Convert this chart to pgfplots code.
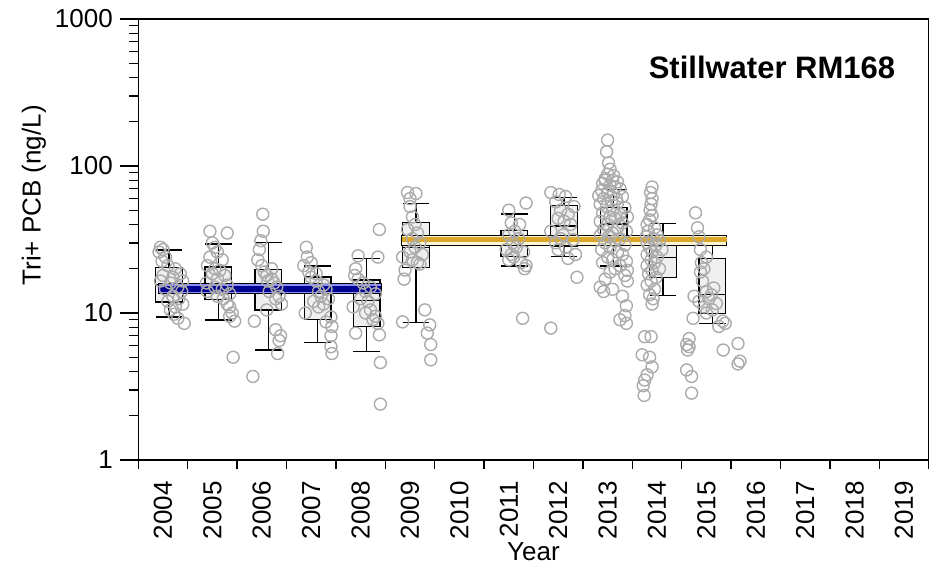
\documentclass[border=0pt]{standalone}
\usepackage{fontspec}
\setmainfont{Liberation Sans}
\usepackage{pgfplots}
\usepackage{pgfplotstable}
\usepgfplotslibrary{statistics}
\pgfplotsset{compat=1.18}

\definecolor{ptgray}{HTML}{ABABAB}
\definecolor{boxfill}{HTML}{DCDCDC}
\definecolor{navyline}{HTML}{000090}
\definecolor{blueband}{HTML}{8C8CFF}
\definecolor{goldline}{HTML}{DCA628}
\definecolor{goldband}{HTML}{FFF6D8}

% individual samples: x = sampling date as fractional year, y = ng/L
\pgfplotstableread{
x y
2004.45 28
2004.50 27
2004.42 26
2004.55 24
2004.48 22.5
2004.60 21
2004.75 20
2004.85 18.5
2004.70 17.5
2004.90 16.5
2004.65 16
2004.80 15
2004.55 14.5
2004.88 14
2004.70 13
2004.82 12.5
2004.60 12
2004.90 11.5
2004.75 11
2004.65 10.5
2004.72 9.8
2004.80 9.2
2004.93 8.5
2004.50 18
2004.45 16.5
2005.45 36
2005.80 35
2005.50 30
2005.55 28
2005.60 26
2005.45 24
2005.70 23
2005.40 21
2005.55 20
2005.65 19.5
2005.50 18.5
2005.75 18
2005.60 17
2005.38 16
2005.80 15.5
2005.55 15
2005.70 14.5
2005.40 14
2005.85 13.5
2005.60 13
2005.72 12.5
2005.80 11.5
2005.85 11
2005.90 10
2005.95 8.8
2005.85 9.5
2005.92 5
2006.52 47
2006.53 36
2006.48 31
2006.45 27
2006.42 23
2006.50 21
2006.55 19
2006.60 18
2006.70 17
2006.75 16
2006.80 15
2006.65 14
2006.85 13
2006.78 12.5
2006.90 11.5
2006.60 10.5
2006.35 8.8
2006.78 7.7
2006.88 7
2006.85 6.5
2006.82 5.3
2006.32 3.7
2006.70 20
2006.62 16.5
2007.40 28
2007.42 24
2007.35 21
2007.45 19
2007.50 17.5
2007.60 16.5
2007.75 15.5
2007.80 14.5
2007.65 14
2007.70 13
2007.85 12.5
2007.55 12
2007.75 11.5
2007.65 11
2007.38 10
2007.90 9.4
2007.92 8.1
2007.80 8.7
2007.90 7
2007.90 5.9
2007.92 5.3
2007.50 22
2007.60 18.5
2008.88 37
2008.45 24.5
2008.85 24
2008.40 20
2008.38 18
2008.45 17
2008.55 16
2008.70 15
2008.60 14
2008.80 13.5
2008.50 12.5
2008.65 12
2008.35 11
2008.70 10.5
2008.60 10
2008.80 9.5
2008.85 8.5
2008.40 7.3
2008.88 7.1
2008.90 4.6
2008.90 2.4
2008.75 9
2009.45 66
2009.62 65
2009.50 60
2009.50 53
2009.55 45
2009.60 40
2009.45 37
2009.65 35
2009.55 32
2009.70 30
2009.60 28
2009.50 26
2009.75 25
2009.35 24
2009.55 23
2009.65 22
2009.70 21.5
2009.40 19.6
2009.38 17
2009.80 10.5
2009.35 8.7
2009.90 8.3
2009.85 7.3
2009.92 6.1
2009.92 4.8
2011.50 50
2011.85 56
2011.55 41
2011.72 40
2011.62 36
2011.50 34
2011.70 32
2011.58 30
2011.65 28
2011.45 27
2011.80 26
2011.55 25
2011.60 24
2011.50 23
2011.75 22
2011.85 21
2011.82 20
2011.78 9.2
2012.35 66
2012.52 64
2012.65 62
2012.45 57
2012.82 53
2012.55 50
2012.70 47
2012.50 44
2012.62 42
2012.75 40
2012.35 36
2012.60 34
2012.80 31.5
2012.45 30
2012.65 28
2012.50 27
2012.85 25
2012.70 23.5
2012.55 32
2012.88 17.5
2012.35 7.9
2013.50 150
2013.48 125
2013.52 105
2013.55 95
2013.50 88
2013.45 82
2013.60 80
2013.70 78
2013.40 76
2013.55 74
2013.65 72
2013.75 70
2013.38 68
2013.50 66
2013.62 64
2013.80 62
2013.42 60
2013.58 58
2013.70 56
2013.35 55
2013.48 53
2013.85 52
2013.60 50
2013.40 48
2013.75 47
2013.55 45
2013.65 44
2013.35 42
2013.80 41
2013.50 40
2013.70 38
2013.42 37
2013.88 36
2013.60 35
2013.36 34
2013.52 33
2013.75 32
2013.65 31
2013.45 30
2013.85 29
2013.55 28
2013.38 27
2013.70 26
2013.80 25
2013.50 24
2013.60 23
2013.88 22.5
2013.40 22
2013.75 21
2013.65 20
2013.90 19.5
2013.55 19
2013.85 18
2013.45 17
2013.90 16.5
2013.35 15
2013.42 14
2013.60 14.5
2013.80 13
2013.88 11.2
2013.85 9.6
2013.75 9
2013.88 8.5
2013.45 80
2013.62 86
2013.68 60
2013.32 63
2013.90 45
2014.40 72
2014.37 66
2014.40 60
2014.38 55
2014.36 50
2014.40 46
2014.35 43
2014.30 40
2014.45 38
2014.32 36
2014.50 34
2014.28 33
2014.42 32
2014.55 31
2014.30 30
2014.48 29
2014.35 28
2014.60 27
2014.40 26
2014.30 25
2014.50 24
2014.38 23
2014.45 22
2014.30 21
2014.55 20
2014.40 19.5
2014.33 18.5
2014.48 17.5
2014.38 16.5
2014.30 15.5
2014.45 14.5
2014.35 13.3
2014.42 12.5
2014.40 11.5
2014.25 6.9
2014.38 6.9
2014.35 5.0
2014.20 5.2
2014.40 4.3
2014.30 3.8
2014.25 3.5
2014.22 3.2
2014.24 2.75
2015.28 48
2015.32 38
2015.35 33
2015.38 27
2015.40 22
2015.38 19
2015.42 16.5
2015.65 14.8
2015.50 14
2015.60 13.3
2015.25 13
2015.55 12.5
2015.70 11.6
2015.45 11
2015.62 10.5
2015.50 10
2015.23 9.2
2015.88 8.5
2015.75 8.1
2015.83 8.8
2015.15 6.7
2015.10 6.1
2015.12 5.6
2015.15 5.9
2015.84 5.6
2016.14 6.2
2016.14 4.5
2016.18 4.7
2015.10 4.1
2015.20 3.7
2015.20 2.85
2015.35 12
2015.45 20
2015.50 24
}\samples

\begin{document}
\begin{tikzpicture}
\useasboundingbox (-138.3pt,-110pt) rectangle (796.7pt,460pt);
\begin{axis}[
  at={(0pt,0pt)}, anchor=south west,
  scale only axis, width=790.4pt, height=441pt,
  ymode=log, ymin=1, ymax=1000,
  xmin=2004, xmax=2020,
  axis line style={line width=1.3pt},
  tick pos=left,
  tick align=outside, tick style={black, line width=1.3pt},
  major tick length=18pt, minor tick length=9pt,
  ytick={1,10,100,1000}, yticklabels={1,10,100,1000},
  minor ytick={2,3,4,5,6,7,8,9,20,30,40,50,60,70,80,90,200,300,400,500,600,700,800,900},
  xtick={2004.5,2005.5,...,2019.5},
  xticklabels={2004,2005,2006,2007,2008,2009,2010,2011,2012,2013,2014,2015,2016,2017,2018,2019},
  minor xtick={2004,2005,...,2020},
  major x tick style={draw=none},
  tick label style={font=\fontsize{26}{26}\selectfont},
  x tick label style={rotate=90, anchor=east},
  y tick label style={xshift=-4pt},
  /pgf/number format/assume math mode=true,
  xlabel={Year}, ylabel={Tri+ PCB (ng/L)},
  every axis x label/.style={at={(axis description cs:0.5,-0.209)}, anchor=center,
    font=\fontsize{26}{26}\selectfont},
  every axis y label/.style={at={(axis description cs:-0.132,0.6)}, rotate=90, anchor=center,
    font=\fontsize{26}{26}\selectfont},
  boxplot/draw direction=y,
  boxplot/box extend=0.54,
  boxplot/whisker extend=0.54,
  clip=false,
]
\addplot[only marks, mark=o, mark size=6pt, draw=ptgray, line width=1.4pt] table {\samples};

\addplot[black, line width=1.3pt, fill=boxfill, fill opacity=0.45, boxplot prepared={draw position=2004.62,
  lower whisker=9.4, lower quartile=11.9, median=15.7, upper quartile=20.5, upper whisker=26.8}] coordinates {};
\addplot[black, line width=1.3pt, fill=boxfill, fill opacity=0.45, boxplot prepared={draw position=2005.62,
  lower whisker=8.96, lower quartile=12.4, median=15.9, upper quartile=20.6, upper whisker=29.5}] coordinates {};
\addplot[black, line width=1.3pt, fill=boxfill, fill opacity=0.45, boxplot prepared={draw position=2006.63,
  lower whisker=5.6, lower quartile=10.5, median=14.3, upper quartile=19.8, upper whisker=30.1}] coordinates {};
\addplot[black, line width=1.3pt, fill=boxfill, fill opacity=0.45, boxplot prepared={draw position=2007.63,
  lower whisker=6.28, lower quartile=9.06, median=14.0, upper quartile=17.6, upper whisker=20.9}] coordinates {};
\addplot[black, line width=1.3pt, fill=boxfill, fill opacity=0.45, boxplot prepared={draw position=2008.62,
  lower whisker=5.5, lower quartile=8.07, median=12.1, upper quartile=16.8, upper whisker=23.6}] coordinates {};
\addplot[black, line width=1.3pt, fill=boxfill, fill opacity=0.45, boxplot prepared={draw position=2009.62,
  lower whisker=8.6, lower quartile=20.3, median=28.0, upper quartile=41.4, upper whisker=55.7}] coordinates {};
\addplot[black, line width=1.3pt, fill=boxfill, fill opacity=0.45, boxplot prepared={draw position=2011.61,
  lower whisker=20.9, lower quartile=24.2, median=30.5, upper quartile=36.3, upper whisker=47.1}] coordinates {};
\addplot[black, line width=1.3pt, fill=boxfill, fill opacity=0.45, boxplot prepared={draw position=2012.62,
  lower whisker=24.2, lower quartile=28.6, median=39.1, upper quartile=54.0, upper whisker=60.9}] coordinates {};
\addplot[black, line width=1.3pt, fill=boxfill, fill opacity=0.45, boxplot prepared={draw position=2013.62,
  lower whisker=20.9, lower quartile=29.8, median=40.3, upper quartile=52.3, upper whisker=69.4}] coordinates {};
\addplot[black, line width=1.3pt, fill=boxfill, fill opacity=0.45, boxplot prepared={draw position=2014.62,
  lower whisker=13.1, lower quartile=17.5, median=23.9, upper quartile=29.8, upper whisker=40.7}] coordinates {};
\addplot[black, line width=1.3pt, fill=boxfill, fill opacity=0.45, boxplot prepared={draw position=2015.62,
  lower whisker=8.5, lower quartile=9.95, median=13.3, upper quartile=23.6, upper whisker=31.0}] coordinates {};

% period means with their confidence bands
\addplot[draw=black, line width=1pt, fill=blueband] coordinates {(2004.40,13.5) (2008.92,13.5) (2008.92,15.9) (2004.40,15.9)} -- cycle;
\addplot[navyline, line width=5.5pt] coordinates {(2004.40,14.6) (2008.92,14.6)};
\addplot[draw=black, line width=1pt, fill=goldband] coordinates {(2009.33,29.0) (2015.91,29.0) (2015.91,33.9) (2009.33,33.9)} -- cycle;
\addplot[goldline, line width=5.5pt] coordinates {(2009.33,31.6) (2015.91,31.6)};

\node[anchor=east, font=\bfseries\fontsize{31}{31}\selectfont] at (rel axis cs:0.962,0.891) {Stillwater RM168};
\end{axis}
\end{tikzpicture}
\end{document}
